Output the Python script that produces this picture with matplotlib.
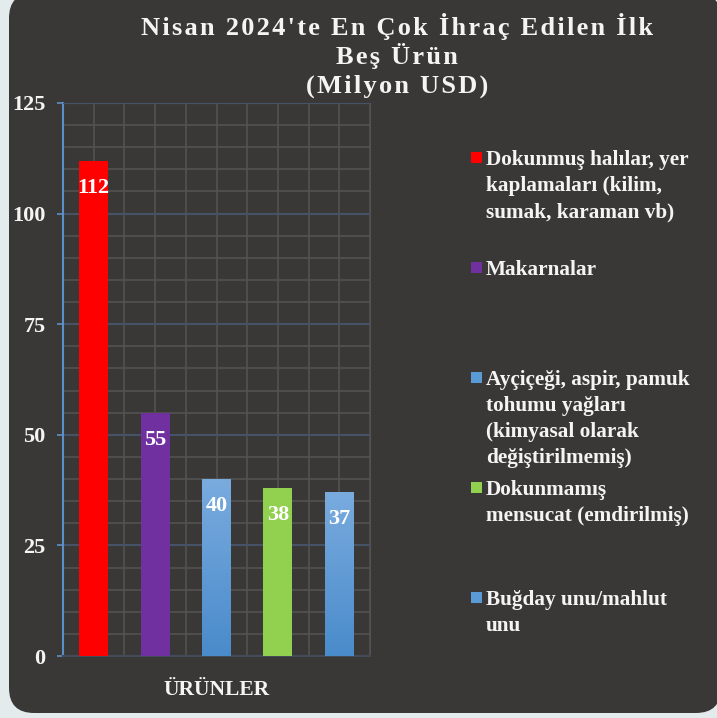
import numpy as np
import matplotlib.pyplot as plt
from matplotlib.patches import FancyBboxPatch, Rectangle
from matplotlib.colors import LinearSegmentedColormap

plt.rcParams['font.family'] = ['Liberation Serif', 'DejaVu Serif']

TITLE_LINES = ["Nisan 2024'te En Çok İhraç Edilen İlk", "Beş Ürün", "(Milyon USD)"]
products = [
    "Dokunmuş halılar, yer\nkaplamaları (kilim,\nsumak, karaman vb)",
    "Makarnalar",
    "Ayçiçeği, aspir, pamuk\ntohumu yağları\n(kimyasal olarak\ndeğiştirilmemiş)",
    "Dokunmamış\nmensucat (emdirilmiş)",
    "Buğday unu/mahlut\nunu",
]
values = [112, 55, 40, 38, 37]
bar_colors = ['#ff0000', '#7030a0', '#5b9bd5', '#92d050', '#5b9bd5']
gradient = [False, False, True, False, True]
y_ticks = [0, 25, 50, 75, 100, 125]

PANEL = '#3a3836'
TEXT = '#f4f4f4'

fig = plt.figure(figsize=(7.17, 7.18), dpi=100)
fig.patch.set_facecolor('#e3ebed')

# dark rounded panel
panel = FancyBboxPatch((9 / 717, 5 / 718), 712 / 717, 720 / 718,
                       boxstyle='round,pad=0,rounding_size=0.035',
                       transform=fig.transFigure, facecolor=PANEL,
                       edgecolor='none', zorder=0)
fig.patches.append(panel)

ax = fig.add_axes([63 / 717, 62 / 718, 307 / 717, 553 / 718])
ax.set_zorder(2)
ax.set_facecolor(PANEL)

x = np.arange(len(values))
bars = ax.bar(x, values, width=0.47, color=bar_colors, zorder=3)

# blue bars get a light-to-dark vertical gradient
blue_map = LinearSegmentedColormap.from_list('blue', ['#4a8bcb', '#79abde'])
for b, g in zip(bars, gradient):
    if not g:
        continue
    b.set_facecolor('none')
    x0, w, h = b.get_x(), b.get_width(), b.get_height()
    grad = np.linspace(0, 1, 100).reshape(-1, 1)
    ax.imshow(grad, cmap=blue_map, origin='lower', aspect='auto',
              extent=(x0, x0 + w, 0, h), zorder=3)

for xi, v in zip(x, values):
    ax.annotate(str(v), (xi, v), xytext=(0, -19.5), textcoords='offset points',
                ha='center', va='center', color='white', fontsize=16,
                fontweight='bold', zorder=5)

ax.set_xlim(-0.5, 4.5)
ax.set_ylim(0, 125)
ax.set_aspect('auto')
ax.set_yticks(y_ticks)
ax.set_yticks(np.arange(0, 126, 5), minor=True)
ax.set_xticks([])
ax.set_xticks(np.arange(-0.5, 4.6, 0.5), minor=True)
ax.tick_params(axis='x', which='both', length=0)
ax.tick_params(axis='y', which='major', length=4.5, width=1.2, color='#5b8fc8',
               pad=8, labelsize=16, labelcolor=TEXT)
ax.tick_params(axis='y', which='minor', length=0)
for lbl in ax.get_yticklabels():
    lbl.set_fontweight('bold')

ax.grid(True, which='minor', color='#525252', linewidth=1.2, zorder=1)
ax.grid(True, which='major', axis='y', color='#465366', linewidth=1.5, zorder=2)

ax.spines['left'].set_color('#5b8fc8')
ax.spines['left'].set_linewidth(1.5)
ax.spines['bottom'].set_color('#424b57')
ax.spines['bottom'].set_linewidth(1.5)
ax.spines['top'].set_color('#465366')
ax.spines['right'].set_color('#525252')

ax.set_xlabel('ÜRÜNLER', color=TEXT, fontsize=15.5, fontweight='bold', labelpad=14)

# title, three centred lines with wide letter spacing
for i, line in enumerate(TITLE_LINES):
    fig.text(397 / 717, 1 - (26 + 30 * i) / 718, '\u200a'.join(line),
             ha='center', va='center', color=TEXT, fontsize=19, fontweight='bold')

# legend, one entry every 110 px
for i, (name, c) in enumerate(zip(products, bar_colors)):
    y_top = 158 + 110 * i
    fig.patches.append(Rectangle((471 / 717, 1 - (y_top + 5) / 718), 11 / 717, 11 / 718,
                                 transform=fig.transFigure, facecolor=c,
                                 edgecolor='none', zorder=3))
    fig.text(486 / 717, 1 - (y_top - 8) / 718, name, ha='left', va='top',
             color=TEXT, fontsize=15.3, fontweight='bold', linespacing=1.4)

fig.savefig('out.png', dpi=100, facecolor=fig.get_facecolor())
